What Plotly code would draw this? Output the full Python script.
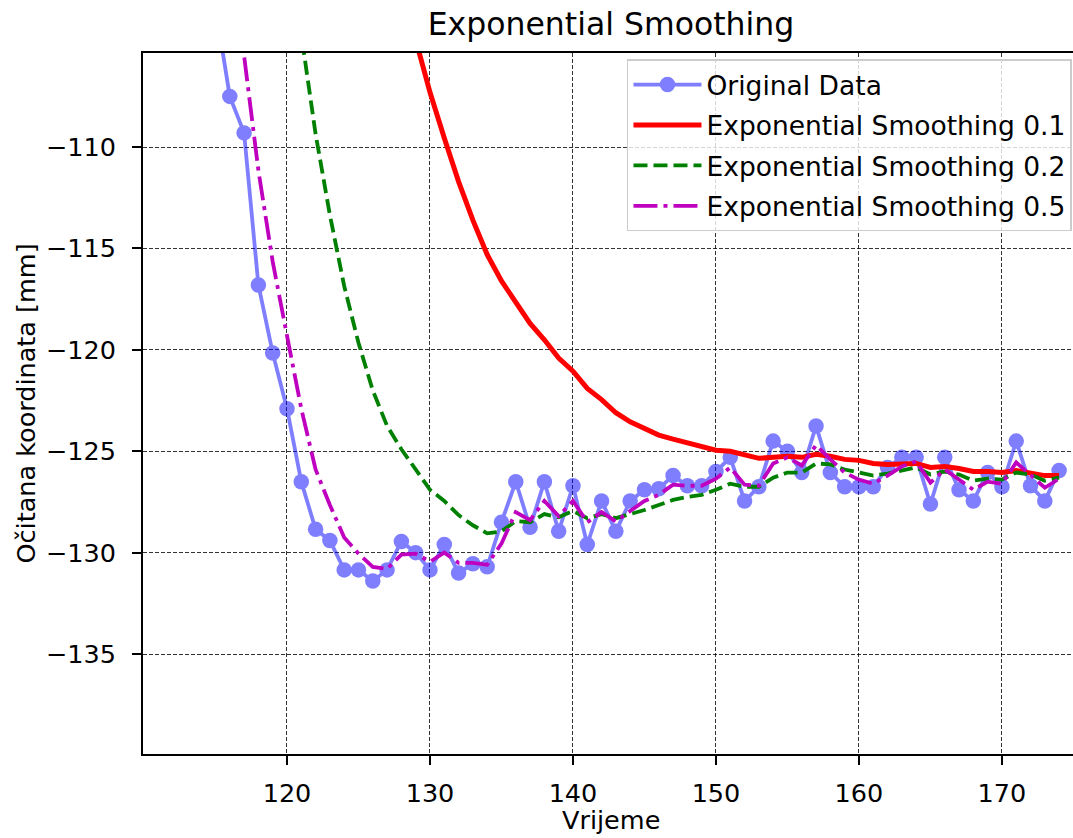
import plotly.graph_objects as go

# ---------------- data ----------------
x_orig = list(range(115, 175))
y_orig = [-103.1, -107.5, -109.3, -116.8, -120.15, -122.9, -126.5, -128.85, -129.4, -130.85,
          -130.85, -131.4, -130.85, -129.45, -130.0, -130.85, -129.6, -131.0, -130.55, -130.7,
          -128.5, -126.5, -128.75, -126.5, -128.95, -126.7, -129.6, -127.45, -128.95, -127.45,
          -126.9, -126.85, -126.2, -126.7, -126.7, -126.0, -125.3, -127.45, -126.75, -124.5,
          -125.0, -126.05, -123.75, -126.05, -126.75, -126.75, -126.75, -125.8, -125.3, -125.3,
          -127.6, -125.3, -126.9, -127.45, -126.05, -126.75, -124.5, -126.7, -127.45, -125.95]

x_s01 = list(range(129, 175))
y_s01 = [-104.7, -107.3, -109.55, -111.7, -113.6, -115.3, -116.6, -117.6, -118.7, -119.5,
         -120.4, -121.05, -121.9, -122.45, -123.1, -123.55, -123.9, -124.2, -124.4, -124.6,
         -124.8, -124.95, -125.0, -125.2, -125.35, -125.3, -125.25, -125.3, -125.15, -125.25,
         -125.4, -125.45, -125.6, -125.65, -125.6, -125.6, -125.8, -125.75, -125.85, -126.0,
         -126.0, -126.05, -125.95, -126.05, -126.2, -126.2]

x_s02 = list(range(120, 175))
y_s02 = [-98.9, -104.45, -109.35, -113.35, -116.85, -119.65, -122.0, -123.75, -124.9, -125.9,
         -126.9, -127.45, -128.15, -128.65, -129.05, -128.95, -128.45, -128.5, -128.1, -128.25,
         -127.95, -128.3, -128.1, -128.3, -128.1, -127.9, -127.65, -127.4, -127.25, -127.15,
         -126.9, -126.6, -126.75, -126.75, -126.3, -126.05, -126.05, -125.6, -125.65, -125.9,
         -126.05, -126.2, -126.1, -125.95, -125.8, -126.15, -126.0, -126.15, -126.45, -126.35,
         -126.4, -126.05, -126.15, -126.45, -126.3]

x_s05 = list(range(116, 175))
y_s05 = [-101.7, -105.5, -111.15, -115.65, -119.3, -122.9, -125.9, -127.65, -129.25, -130.05,
         -130.7, -130.8, -130.1, -130.05, -130.45, -130.0, -130.5, -130.5, -130.6, -129.55,
         -128.0, -128.4, -127.45, -128.2, -127.45, -128.5, -128.0, -128.45, -127.95, -127.45,
         -127.15, -126.65, -126.7, -126.7, -126.35, -125.8, -126.65, -126.7, -125.6, -125.3,
         -125.7, -124.7, -125.4, -126.05, -126.4, -126.6, -126.2, -125.75, -125.5, -126.55,
         -125.9, -126.4, -126.9, -126.5, -126.6, -125.55, -126.15, -126.8, -126.35]

x_tick_vals = [120, 130, 140, 150, 160, 170]
x_tick_text = ["120", "130", "140", "150", "160", "170"]
y_tick_vals = [-110, -115, -120, -125, -130, -135]
y_tick_text = ["\u2212110", "\u2212115", "\u2212120", "\u2212125", "\u2212130", "\u2212135"]

FONT = "DejaVu Sans"
W, H = 1073, 838
L, T, B, R = 143, 53, 84, 0

fig = go.Figure()
fig.add_trace(go.Scatter(
    x=x_orig, y=y_orig, mode="lines+markers", name="Original Data", legendgroup="a",
    line=dict(color="blue", width=3.8), marker=dict(color="blue", size=15.5),
    opacity=0.5))
fig.add_trace(go.Scatter(
    x=x_s01, y=y_s01, mode="lines", name="Exponential Smoothing 0.1", legendgroup="b",
    line=dict(color="red", width=5)))
fig.add_trace(go.Scatter(
    x=x_s02, y=y_s02, mode="lines", name="Exponential Smoothing 0.2", legendgroup="c",
    line=dict(color="green", width=3.8, dash="14px,6px")))
fig.add_trace(go.Scatter(
    x=x_s05, y=y_s05, mode="lines", name="Exponential Smoothing 0.5", legendgroup="d",
    line=dict(color="#bf00bf", width=3.8, dash="24px,6px,4px,6px")))

axis_common = dict(
    showgrid=True, gridcolor="rgba(0,0,0,0.8)", gridwidth=1.3, griddash="4px,2px",
    zeroline=False, showline=True, linecolor="black", linewidth=2,
    ticks="outside", ticklen=9, tickwidth=2, tickcolor="black",
    tickfont=dict(family=FONT, size=25.5, color="black"),
)

fig.update_xaxes(range=[109.93, 174.97], tickvals=x_tick_vals, ticktext=x_tick_text,
                 mirror=True, ticklabelstandoff=6, **axis_common)
fig.update_yaxes(range=[-139.93, -105.36], tickvals=y_tick_vals, ticktext=y_tick_text,
                 mirror=False, ticklabelstandoff=11, **axis_common)

fig.update_layout(
    width=W, height=H,
    margin=dict(l=L, r=R, t=T, b=B),
    plot_bgcolor="white", paper_bgcolor="white",
    font=dict(family=FONT, color="black"),
    title=dict(text="Exponential Smoothing", x=611 / W, xref="container", xanchor="center",
               y=1 - 24 / H, yref="container", yanchor="middle",
               font=dict(family=FONT, size=31.5, color="black")),
    legend=dict(x=0.9989, y=0.991, xanchor="right", yanchor="top",
                bgcolor="rgba(255,255,255,0.8)", bordercolor="#cccccc", borderwidth=1.5,
                font=dict(family=FONT, size=26.5, color="black"),
                itemwidth=68, tracegroupgap=3),
    showlegend=True,
    annotations=[
        dict(text="Vrijeme", xref="paper", yref="paper", x=(611 - L) / (W - L),
             y=-(820 - (H - B)) / (H - T - B), xanchor="center", yanchor="middle",
             showarrow=False, font=dict(family=FONT, size=25.5, color="black")),
        dict(text="O\u010ditana koordinata [mm]", xref="paper", yref="paper",
             x=-(L - 25) / (W - L), y=0.5, xanchor="center", yanchor="middle",
             textangle=-90, showarrow=False, font=dict(family=FONT, size=25.5, color="black")),
    ],
)

fig.write_html("out.html")
